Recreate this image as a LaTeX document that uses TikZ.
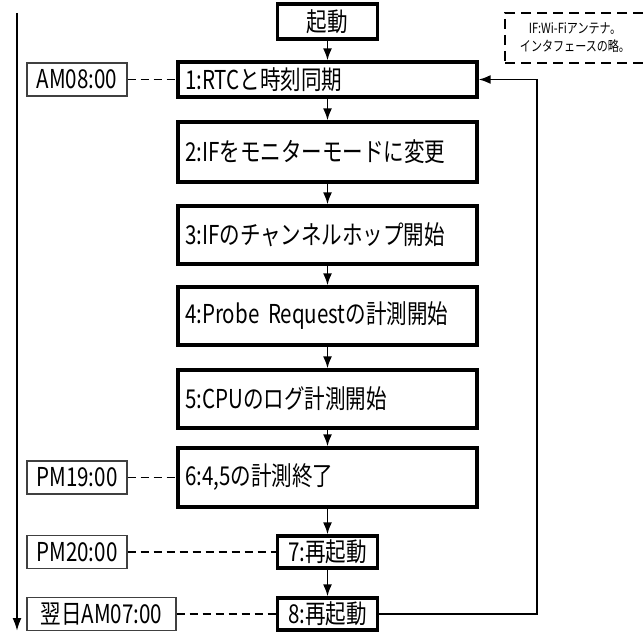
\documentclass[tikz,border=0pt]{standalone}
\usepackage{fontspec}
\setmainfont{Noto Sans CJK JP}[FakeStretch=0.79]
\usetikzlibrary{arrows.meta}
\tikzset{
  mainbox/.style={draw, line width=3.4pt, inner xsep=7pt, inner ysep=0pt, font=\fontsize{26}{28}\selectfont},
  widebox/.style={mainbox, minimum width=299pt, text width=285pt, align=left},
  smallbox/.style={mainbox, minimum width=100pt, minimum height=33pt, align=center, inner xsep=2pt},
  timebox/.style={draw=black!75, line width=1.1pt, minimum height=33pt, inner xsep=2pt, inner ysep=0pt, font=\fontsize{26}{28}\selectfont},
  flow/.style={line width=1.6pt, -{Latex[length=12pt,width=9pt]}},
  timeline/.style={line width=1.6pt, dash pattern=on 8pt off 5pt},
  notebox/.style={draw, line width=2.8pt, dash pattern=on 10pt off 6pt, minimum width=140pt, minimum height=50pt, align=center, font=\fontsize{14}{18}\selectfont},
}
\begin{document}
\begin{tikzpicture}[x=1pt, y=-1pt]
\useasboundingbox (0,0) rectangle (644,631);
% main flow
\node[smallbox, minimum height=35pt] (start) at (327.5,21.5) {起動};
\node[widebox, minimum height=35pt] (b1) at (327.5,79.5) {1:RTCと時刻同期};
\node[widebox, minimum height=60pt] (b2) at (327.5,152) {2:IFをモニターモードに変更};
\node[widebox, minimum height=58pt] (b3) at (327.5,235) {3:IFのチャンネルホップ開始};
\node[widebox, minimum height=58pt] (b4) at (327.5,316) {4:Probe Requestの計測開始};
\node[widebox, minimum height=58pt] (b5) at (327.5,399) {5:CPUのログ計測開始};
\node[widebox, minimum height=59pt] (b6) at (327.5,477.5) {6:4,5の計測終了};
\node[smallbox, minimum height=32pt] (b7) at (327.5,552) {7:再起動};
\node[smallbox, minimum height=32pt] (b8) at (327.5,614) {8:再起動};
% time labels
\node[timebox, minimum width=100pt] (t1) at (77,79.5) {AM08:00};
\node[timebox, minimum width=100pt] (t6) at (77,477.5) {PM19:00};
\node[timebox, minimum width=100pt] (t7) at (77,552) {PM20:00};
\node[timebox, minimum width=149pt] (t8) at (101.5,614) {翌日AM07:00};
% note
\node[notebox] (note) at (575,38) {IF:Wi-Fiアンテナ。\\インタフェースの略。};
% connectors
\draw[flow] (start) -- (b1);
\draw[flow] (b1) -- (b2);
\draw[flow] (b2) -- (b3);
\draw[flow] (b3) -- (b4);
\draw[flow] (b4) -- (b5);
\draw[flow] (b5) -- (b6);
\draw[flow] (b6) -- (b7);
\draw[flow] (b7) -- (b8);
\coordinate (fb) at (537,79.5);
\draw[flow] (b8.east) -| (fb) -- (b1.east);
% dashed time links
\draw[timeline] (t1.east) -- (b1.west);
\draw[timeline] (t6.east) -- (b6.west);
\draw[timeline] (t7.east) -- (b7.west);
\draw[timeline] (t8.east) -- (b8.west);
% time axis
\coordinate (axtop) at (17,13);
\coordinate (axbot) at (17,631);
\draw[line width=2pt, -{Latex[length=13pt,width=9pt]}] (axtop) -- (axbot);
\end{tikzpicture}
\end{document}
